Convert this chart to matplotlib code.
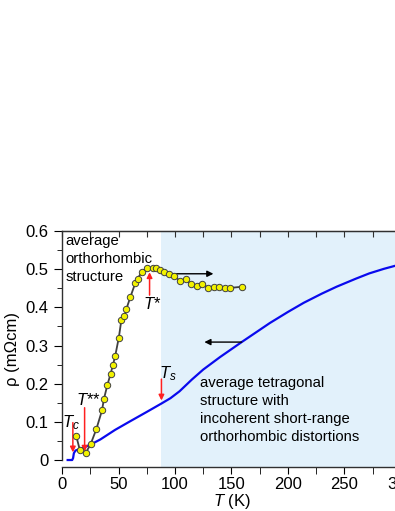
import numpy as np
import matplotlib.pyplot as plt
from matplotlib.ticker import MultipleLocator

plt.rcParams['font.family'] = ['Liberation Sans', 'DejaVu Sans']
plt.rcParams['mathtext.fontset'] = 'custom'
plt.rcParams['mathtext.it'] = 'Liberation Sans:italic'
plt.rcParams['mathtext.rm'] = 'Liberation Sans'

# resistivity (blue, left axis)
T_rho = [5, 9, 9.8, 10.5, 12, 15, 20, 25, 34, 47, 60, 75, 88, 96, 104, 115,
         125, 140, 159, 184, 200, 214, 230, 243, 260, 272, 285, 295, 300]
rho = [0, 0, 0.005, 0.018, 0.025, 0.028, 0.034, 0.040, 0.054, 0.079, 0.101,
       0.126, 0.148, 0.162, 0.180, 0.211, 0.237, 0.270, 0.309, 0.359, 0.388,
       0.412, 0.436, 0.454, 0.475, 0.489, 0.501, 0.509, 0.512]

# second quantity (yellow dots), drawn in left-axis units
T_dots = [12.6, 15.8, 20.8, 25.4, 30.4, 35.4, 37.1, 40.1, 43, 45, 47.1, 50.3,
          52.6, 55.3, 57, 60.5, 64.9, 66.9, 70.4, 75.2, 80.4, 83, 86.8, 90.4,
          95, 99.4, 104.4, 109.4, 114.6, 119.6, 124.3, 129.2, 134.2, 138.9,
          143.9, 148.9, 159.4]
dots = [0.063, 0.026, 0.0175, 0.042, 0.081, 0.130, 0.160, 0.196, 0.226, 0.248,
        0.273, 0.321, 0.368, 0.377, 0.396, 0.427, 0.464, 0.475, 0.492, 0.504,
        0.504, 0.503, 0.498, 0.492, 0.488, 0.482, 0.469, 0.473, 0.460, 0.457,
        0.462, 0.451, 0.454, 0.454, 0.451, 0.451, 0.454]

T_s = 88

fig = plt.figure(figsize=(3.95, 5.11), dpi=100)
ax = fig.add_axes([0.157, 0.0861, 0.858, 0.4618])

ax.axvspan(T_s, 300, color='#e2f1fb', lw=0, zorder=0)
ax.plot(T_rho, rho, color='#0a0aee', lw=1.6, zorder=3)
ax.plot(T_dots, dots, color='#404040', lw=1.3, marker='o', ms=4.6,
        mfc='#f2f200', mec='#404040', mew=0.7, zorder=4)

# black arrows telling which axis each curve belongs to
ax.annotate('', xy=(134, 0.488), xytext=(90, 0.488),
            arrowprops=dict(arrowstyle='-|>', color='black', lw=1,
                            mutation_scale=9, shrinkA=0, shrinkB=0))
ax.annotate('', xy=(126, 0.309), xytext=(159, 0.309),
            arrowprops=dict(arrowstyle='-|>', color='black', lw=1,
                            mutation_scale=9, shrinkA=0, shrinkB=0))

# red arrows for the characteristic temperatures
red = dict(arrowstyle='-|>', color='#ff2020', lw=1.1, mutation_scale=8,
           shrinkA=0, shrinkB=0)
ax.annotate('', xy=(9.6, 0.020), xytext=(9.6, 0.098), arrowprops=red)
ax.annotate('', xy=(20, 0.022), xytext=(20, 0.137), arrowprops=red)
ax.annotate('', xy=(T_s, 0.156), xytext=(T_s, 0.212), arrowprops=red)
ax.annotate('', xy=(77.5, 0.492), xytext=(77.5, 0.432), arrowprops=red)

ax.text(7.5, 0.098, r'$T_c$', fontsize=12, ha='center', va='center')
ax.text(23, 0.158, r'$T$**', fontsize=12, ha='center', va='center')
ax.text(94, 0.225, r'$T_s$', fontsize=12, ha='center', va='center')
ax.text(80, 0.410, r'$T$*', fontsize=12, ha='center', va='center')

ax.text(2.7, 0.592, 'average\northorhombic\nstructure', fontsize=10.7,
        ha='left', va='top', linespacing=1.35)
ax.text(122, 0.219, 'average tetragonal\nstructure with\nincoherent short-range\n'
        'orthorhombic distortions', fontsize=10.7, ha='left', va='top',
        linespacing=1.35)

ax.set_xlim(0, 300)
ax.set_ylim(-0.0183, 0.6)
ax.spines['left'].set_bounds(0, 0.6)
ax.xaxis.set_major_locator(MultipleLocator(50))
ax.xaxis.set_minor_locator(MultipleLocator(25))
ax.yaxis.set_major_locator(MultipleLocator(0.1))
ax.yaxis.set_minor_locator(MultipleLocator(0.05))
ax.tick_params(axis='x', which='both', direction='out', length=5, pad=2,
               labelsize=12)
ax.tick_params(axis='y', which='major', direction='out', length=6, labelsize=12)
ax.tick_params(axis='y', which='minor', direction='out', length=3.5)
ax.set_yticks(np.arange(0, 0.61, 0.1))
ax.set_yticklabels(['0', '0.1', '0.2', '0.3', '0.4', '0.5', '0.6'])
for sp in ax.spines.values():
    sp.set_color('#303030')
    sp.set_linewidth(1)

# top axis: ticks pointing inward, no labels
top = ax.secondary_xaxis('top')
top.xaxis.set_major_locator(MultipleLocator(25))
top.tick_params(axis='x', direction='in', length=4, labeltop=False,
                color='#303030')
top.spines['top'].set_color('#303030')

ax.set_xlabel(r'$T$ (K)', fontsize=12, labelpad=0)
ax.set_ylabel('ρ (mΩcm)', fontsize=12, labelpad=4)

fig.savefig('out.png', dpi=100)
